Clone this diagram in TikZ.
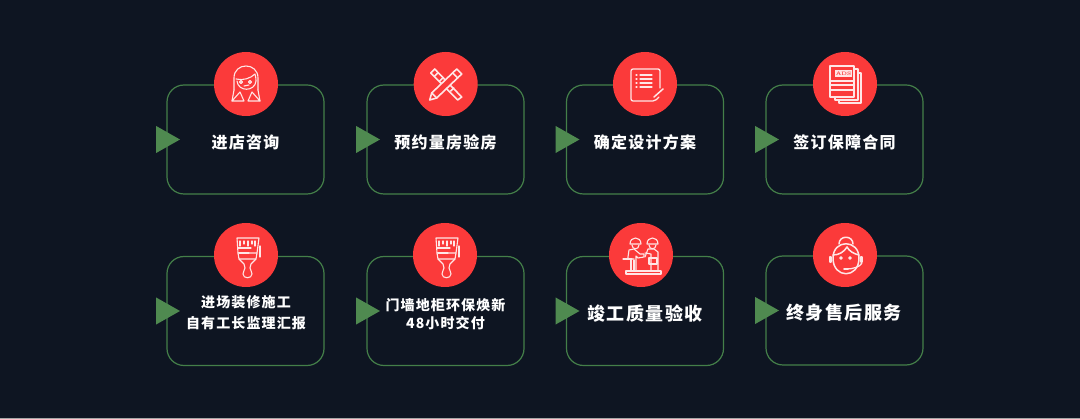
\documentclass[tikz,border=0pt]{standalone}
\usepackage{fontspec}
\newfontfamily\cjk[LetterSpace=8]{Noto Sans CJK SC}
\usetikzlibrary{shapes.geometric}
\definecolor{bgdark}{HTML}{0E1522}
\definecolor{boxgreen}{HTML}{447F49}
\definecolor{trigreen}{HTML}{4F8A50}
\definecolor{iconred}{HTML}{FB3A3A}
\definecolor{iconline}{HTML}{FFE6E6}
\tikzset{
    stepbox/.style={draw=boxgreen,line width=1.2pt,rounded corners=17pt,minimum width=157pt,minimum height=109pt,inner sep=0pt,outer sep=0pt},
    badge/.style={circle,fill=iconred,minimum size=64pt,inner sep=0pt,outer sep=0pt},
    tip/.style={isosceles triangle,isosceles triangle apex angle=59,fill=trigreen,minimum height=24pt,inner sep=0pt,outer sep=0pt,anchor=apex},
    label/.style={text=white,align=center,font=\cjk\bfseries\fontsize{16}{25}\selectfont},
    labelbig/.style={text=white,align=center,font=\cjk\bfseries\fontsize{18}{22}\selectfont},
    labelsmall/.style={text=white,align=center,font=\cjk\bfseries\fontsize{14}{21}\selectfont},
    ico/.style={draw=iconline,line width=1.1pt,line join=round,line cap=round},
    pics/brush/.style={code={
        \draw [ico] (-9,-17)--(13,-17)--(11,-2)--(-8,-2)--cycle;
        \draw [ico] (-6,-14)--(-6,-9) (-2,-14)--(-2,-11) (2,-14)--(2,-9) (6,-14)--(6,-11) (9,-14)--(9,-9);
        \draw [ico] (-8,-2)--(-7,4)--(10,4)--(11,-2);
        \draw [ico] (-8,-7)--(5,-7) (-7,-2)--(3,-2);
        \draw [ico] (14,-9)--(14,2);
        \draw [ico] (-7,4)--(-2,9)--(-1,13) .. controls (-1,15) and (-3,16) .. (-3,19) .. controls (-3,24) and (6,24) .. (6,19) .. controls (6,16) and (4,15) .. (4,13)--(5,9)--(10,4);
    }}
}
\begin{document}
\begin{tikzpicture}[x=1pt,y=-1pt]
    \useasboundingbox [fill=bgdark] (0,0) rectangle (1080,419);
    \fill [gray!70] (0,418) rectangle (1080,419);
    % top row
    \node [stepbox] (boxa) at (245.5,139.5) {};
    \node [stepbox] (boxb) at (445.5,139.5) {};
    \node [stepbox] (boxc) at (645,139.5) {};
    \node [stepbox] (boxd) at (844.5,139.5) {};
    % bottom row
    \node [stepbox] (boxe) at (245.5,311) {};
    \node [stepbox] (boxf) at (445.5,311) {};
    \node [stepbox] (boxg) at (645,311) {};
    \node [stepbox] (boxh) at (844.5,310.5) {};
    \node [tip] (tipa) at (180,139.5) {};
    \node [tip] (tipb) at (380,139.5) {};
    \node [tip] (tipc) at (579.5,139.5) {};
    \node [tip] (tipd) at (779,139.5) {};
    \node [tip] (tipe) at (180,311) {};
    \node [tip] (tipf) at (380,311) {};
    \node [tip] (tipg) at (579.5,311) {};
    \node [tip] (tiph) at (779,310.5) {};
    \node [badge] (bada) at (246,84) {};
    \node [badge] (badb) at (445.7,84) {};
    \node [badge] (badc) at (645,84) {};
    \node [badge] (badd) at (845,84) {};
    \node [badge] (bade) at (246,255) {};
    \node [badge] (badf) at (445,255) {};
    \node [badge] (badg) at (641,255) {};
    \node [badge] (badh) at (845,255) {};
    \node [label] (texta) at (245.5,142) {进店咨询};
    \node [label] (textb) at (445.5,142) {预约量房验房};
    \node [label] (textc) at (645,142) {确定设计方案};
    \node [label] (textd) at (844.5,142) {签订保障合同};
    \node [labelsmall] (texte) at (246,313) {进场装修施工\\自有工长监理汇报};
    \node [labelsmall] (textf) at (445.5,314) {门墙地柜环保焕新\\[-3pt]48小时交付};
    \node [labelbig] (textg) at (645,313.5) {竣工质量验收};
    \node [labelbig] (texth) at (844,313) {终身售后服务};
    % agent icon
    \begin{scope}[shift={(bada.center)}]
        \draw [ico] (-12,6)--(-12,-6) .. controls (-12,-22) and (12,-22) .. (12,-6)--(12,6);
        \draw [ico] (-12,6)--(-14,17) (12,6)--(14,17);
        \draw [ico] (-10,-5) .. controls (-3,-3) and (5,-6) .. (9,-10) .. controls (10,-6) and (10,-5) .. (10,-3) .. controls (9,8) and (-8,8) .. (-9,-3);
        \draw [ico] (-5,-2) circle [radius=1.5] (4,-2) circle [radius=1.5] (-2,2)--(3,1);
        \draw [ico] (-14,17)--(-6,8)--(-2,17)--cycle;
        \draw [ico] (2,17)--(6,8)--(14,17)--cycle;
    \end{scope}
    % ruler and pencil icon
    \begin{scope}[shift={(badb.center)}]
        \draw [ico,line width=1.6pt] (-15,-11)--(-11,-15)--(16,13)--(12,16)--cycle;
        \draw [ico,line width=1.6pt] (-11,-8)--(-8,-11) (-6,-3)--(-3,-6) (5,7)--(8,4);
        \draw [ico,line width=1.6pt,fill=iconred] (11,-15)--(16,-10)--(-9,14)--(-16,16)--(-14,9)--cycle;
        \draw [ico,line width=1.6pt] (7,-11)--(12,-6) (-14,9)--(-9,14);
    \end{scope}
    % document icon
    \begin{scope}[shift={(badc.center)}]
        \draw [ico,line width=1.3pt,rounded corners=2pt] (15,4)--(15,-15)--(-14,-15)--(-14,17)--(10,17)--(14,13);
        \draw [ico,line width=1.3pt] (-9,-9)--(-8,-9) (-9,-5)--(-8,-5) (-9,-1)--(-8,-1) (-9,3)--(-8,3);
        \draw [ico,line width=1.3pt] (-5,-9)--(7,-9) (-5,-5)--(7,-5) (-5,-1)--(7,-1) (-5,3)--(7,3);
        \draw [ico,line width=1.5pt] (9,13)--(18,5);
    \end{scope}
    % contract icon
    \begin{scope}[shift={(badd.center)}]
        \draw [ico] (-15,-18)--(9,-18)--(9,13)--(-15,13)--cycle;
        \draw [ico] (9,-15)--(13,-15)--(13,16)--(-10,16)--(-10,13);
        \draw [ico] (13,-11)--(16,-11)--(16,19)--(-6,19)--(-6,16);
        \node [fill=iconline,minimum width=17pt,minimum height=7pt,inner sep=0pt,text=iconred,font=\bfseries\fontsize{5}{5}\selectfont] (adsd) at (-1.5,-10) {ADS};
        \draw [ico] (-15,-3)--(9,-3) (-15,1)--(9,1) (-15,6)--(9,6);
    \end{scope}
    % brush icons
    \pic [shift={(bade.center)}] {brush};
    \pic [shift={(badf.center)}] {brush};
    % handshake icon
    \begin{scope}[shift={(badg.center)}]
        \draw [ico] (-15,19)--(20,19)--(20,16)--(-15,16)--cycle;
        \draw [ico] (-11,-11) .. controls (-11,-19) and (0,-19) .. (0,-11)--cycle;
        \draw [ico] (6,-11) .. controls (6,-19) and (17,-19) .. (17,-11)--cycle;
        \draw [ico] (-9,-10) .. controls (-9,-5) and (-2,-5) .. (-2,-10);
        \draw [ico] (8,-10) .. controls (8,-5) and (15,-5) .. (15,-10);
        \draw [ico] (-13,2)--(-12,-5)--(-7,-6)--(-1,-1)--(3,-1)--(3,2)--(-3,3)--(-5,1)--(-5,16) (-13,2)--(-13,4)--(-7,4);
        \draw [ico] (-10,16)--(-10,5) (-7,16)--(-7,5);
        \draw [ico] (-18,4)--(-9,4);
        \draw [ico] (4,2)--(7,-6)--(13,-6)--(17,-3)--(17,16) (4,-2)--(10,-1)--(10,16);
        \draw [ico] (8,3)--(16,3)--(16,9)--(8,9)--cycle;
    \end{scope}
    % headset icon
    \begin{scope}[shift={(badh.center)}]
        \draw [ico,line width=1.5pt] (-12,3) .. controls (-12,-16) and (14,-16) .. (14,3) .. controls (14,24) and (-12,24) .. (-12,3);
        \draw [ico,line width=1.5pt] (-12,0) .. controls (-6,0) and (-1,-3) .. (2,-8) .. controls (4,-4) and (9,-1) .. (14,0);
        \draw [ico,line width=1.5pt] (-6,-11) .. controls (-6,-20) and (8,-20) .. (8,-11);
        \draw [ico,line width=1.5pt,fill=iconline] (-4,3) circle [radius=1] (5,3) circle [radius=1];
        \draw [ico,line width=1.5pt,fill=iconline] (-15,2) rectangle (-14,7) (16,2) rectangle (17,7);
        \draw [ico,line width=1.3pt] (17,8) .. controls (15,12) and (8,14) .. (1,14);
        \draw [ico,line width=2pt] (-1,14)--(3,14);
    \end{scope}
\end{tikzpicture}
\end{document}
